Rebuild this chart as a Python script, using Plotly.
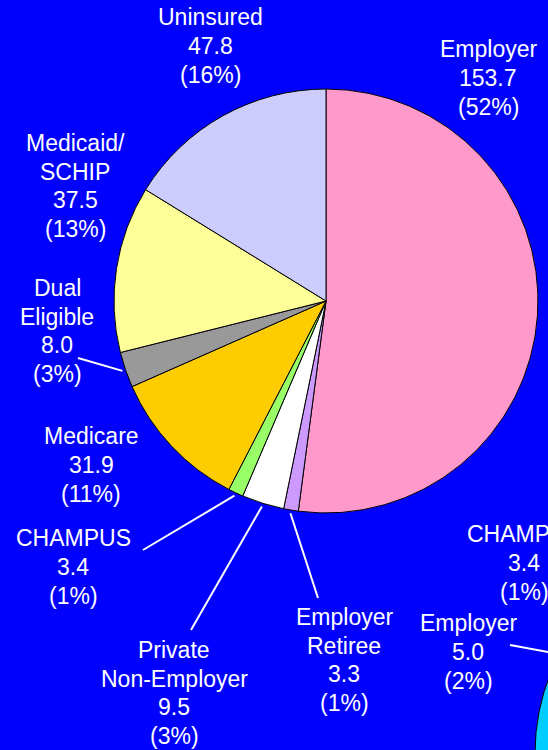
import math
import plotly.graph_objects as go

# ---- data ----
categories = ["Employer", "Employer Retiree", "Private Non-Employer", "CHAMPUS",
              "Medicare", "Dual Eligible", "Medicaid/SCHIP", "Uninsured"]
label_lines = [["Employer"], ["Employer", "Retiree"], ["Private", "Non-Employer"], ["CHAMPUS"],
               ["Medicare"], ["Dual", "Eligible"], ["Medicaid/", "SCHIP"], ["Uninsured"]]
values = [153.7, 3.3, 9.5, 3.4, 31.9, 8.0, 37.5, 47.8]

# second (partially visible) pie labels
pie2_labels = ["CHAMPUS", "Employer"]
pie2_values = [3.4, 5.0]
pie2_pcts = [1, 2]

# ---- style / layout ----
W, H = 548, 750
colors = ["#FF99CC", "#CC99FF", "#FFFFFF", "#99FF66", "#FFCC00", "#999999", "#FFFF99", "#CCCCFF"]
BG = "#0000FF"
CX, CY, R = 326, 301, 212           # main pie centre / radius in pixels
P2X, P2Y, P2R = 747, 753, 212        # second pie (off-canvas) centre / radius
FONT = dict(family="Liberation Sans, Arial, sans-serif", size=23, color="white")
LINE_H = 28.8

# label block centres (pixels) and leader-line end points
label_pos = {
    "Employer": (488, 78),
    "Employer Retiree": (344, 660),
    "Private Non-Employer": (174, 693),
    "CHAMPUS": (73, 567),
    "Medicare": (91, 465),
    "Dual Eligible": (57, 331),
    "Medicaid/SCHIP": (75, 186),
    "Uninsured": (210, 46),
}
leader_end = {
    "Employer Retiree": (318, 598),
    "Private Non-Employer": (191, 630),
    "CHAMPUS": (143, 550),
    "Dual Eligible": (78, 358),
}
pie2_pos = [(524, 563), (468, 652)]
pie2_leader = {1: ((510, 645), (570, 656))}


def px(x):
    return x / W


def py(y):
    return 1 - y / H


def add_label(annots, lines, cx, cy):
    n = len(lines)
    for i, t in enumerate(lines):
        y = cy + (i - (n - 1) / 2) * LINE_H
        annots.append(dict(x=px(cx), y=py(y), xref="paper", yref="paper", showarrow=False,
                           text=t, font=FONT, xanchor="center", yanchor="middle"))


fig = go.Figure()
fig.add_trace(go.Pie(
    labels=categories, values=values, sort=False, direction="clockwise", rotation=0,
    marker=dict(colors=colors, line=dict(color="black", width=1)),
    textinfo="none", hoverinfo="label+value+percent", showlegend=False,
    domain=dict(x=[px(CX - R), px(CX + R)], y=[py(CY + R), py(CY - R)]),
))

total = sum(values)
annotations = []
shapes = []
cum = 0.0
for name, lines, v in zip(categories, label_lines, values):
    mid = (cum + v / 2) / total * 2 * math.pi
    cum += v
    pct = round(v / total * 100)
    lx, ly = label_pos[name]
    add_label(annotations, lines + [f"{v:.1f}", f"({pct}%)"], lx, ly)
    if name in leader_end:
        sx = CX + R * 1.015 * math.sin(mid)
        sy = CY - R * 1.015 * math.cos(mid)
        ex, ey = leader_end[name]
        shapes.append(dict(type="line", xref="paper", yref="paper",
                           x0=px(sx), y0=py(sy), x1=px(ex), y1=py(ey),
                           line=dict(color="white", width=2)))

# second pie (only a sliver is visible)
shapes.append(dict(type="circle", xref="paper", yref="paper",
                   x0=px(P2X - P2R), x1=px(P2X + P2R), y0=py(P2Y + P2R), y1=py(P2Y - P2R),
                   fillcolor="#00CCFF", line=dict(color="black", width=1), layer="below"))
for i, (n, v, p) in enumerate(zip(pie2_labels, pie2_values, pie2_pcts)):
    lx, ly = pie2_pos[i]
    add_label(annotations, [n, f"{v:.1f}", f"({p}%)"], lx, ly)
for i, ((x0, y0), (x1, y1)) in pie2_leader.items():
    shapes.append(dict(type="line", xref="paper", yref="paper",
                       x0=px(x0), y0=py(y0), x1=px(x1), y1=py(y1),
                       line=dict(color="white", width=2)))

fig.update_layout(
    width=W, height=H, margin=dict(l=0, r=0, t=0, b=0),
    paper_bgcolor=BG, plot_bgcolor=BG,
    annotations=annotations, shapes=shapes, showlegend=False,
)
fig.write_html("out.html", config={"displayModeBar": False},
               post_script="document.body.style.margin='0';document.body.style.overflow='hidden';")
